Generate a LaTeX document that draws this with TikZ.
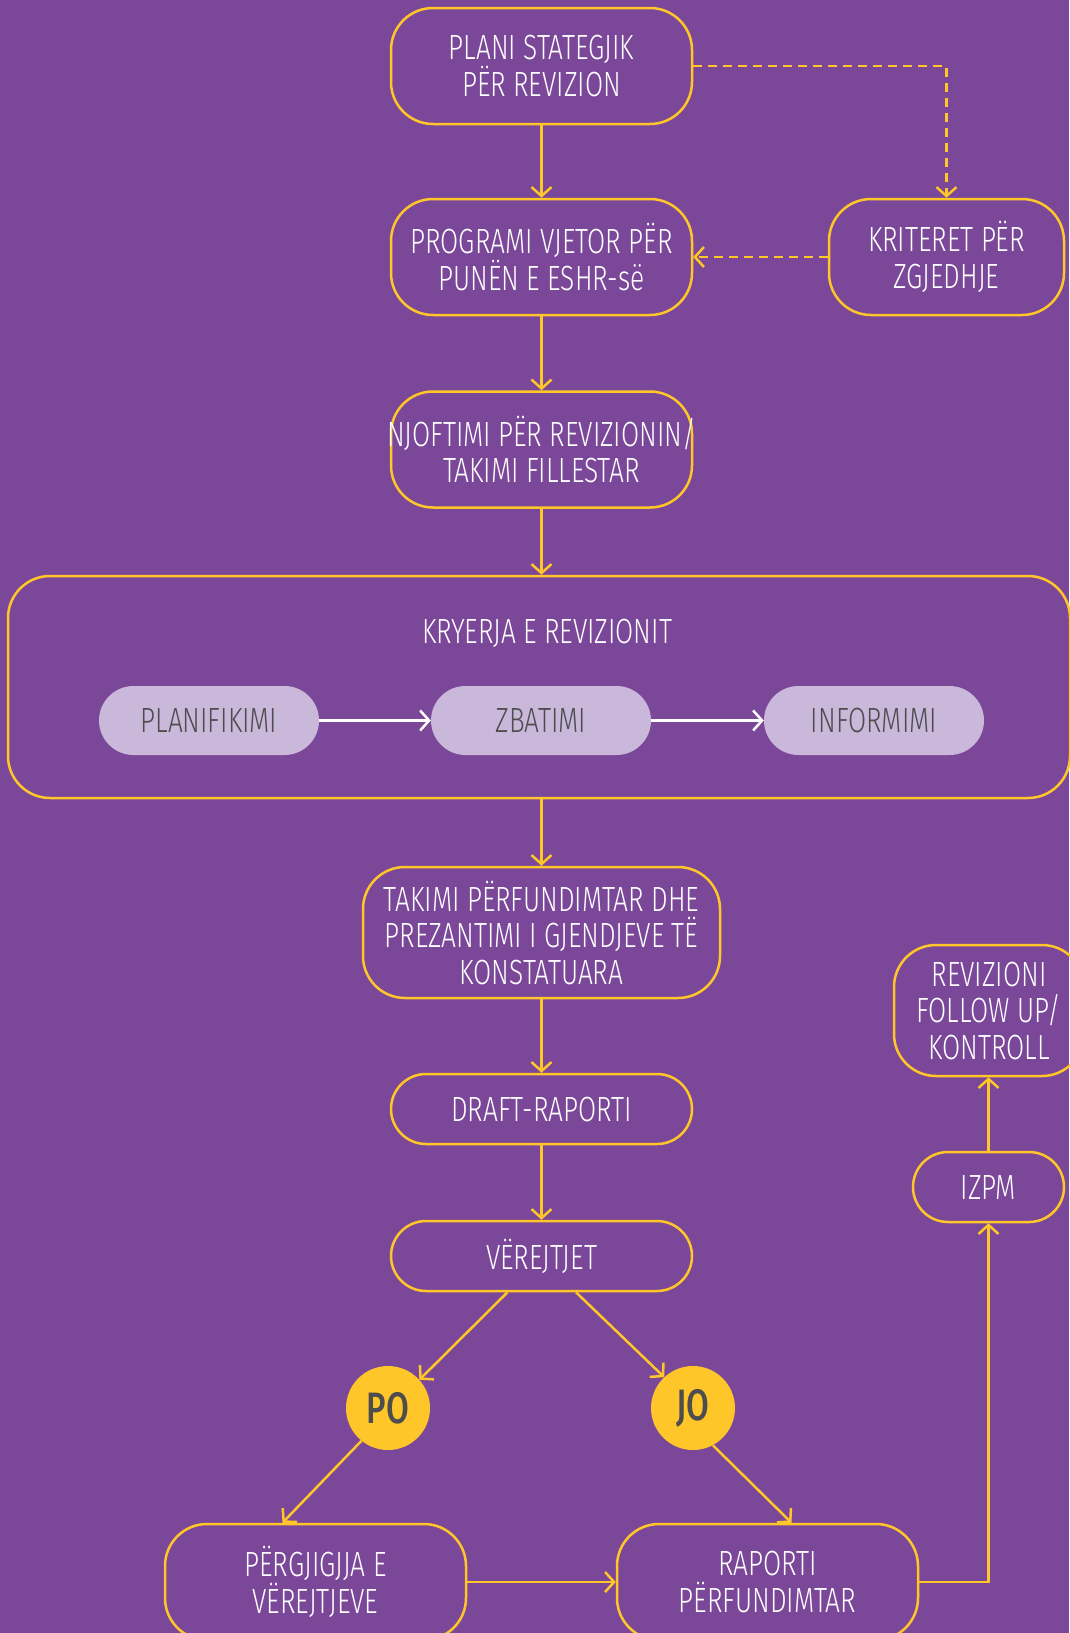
\documentclass[tikz,border=0pt]{standalone}
\usepackage{fontspec}
\setmainfont{Fira Sans}[FakeStretch=0.75, UprightFont=* Light, BoldFont=* Medium]
\usetikzlibrary{arrows.meta}
\definecolor{vjollce}{HTML}{7B4899}
\definecolor{verdhe}{HTML}{FFC629}
\definecolor{lejla}{HTML}{C9B8DA}
\definecolor{hiri}{HTML}{4D4D4D}
\begin{document}
\begin{tikzpicture}[x=1pt, y=-1pt, >={Straight Barb[length=9pt, width=20pt]}]
\tikzstyle{kuti}=[draw=verdhe, line width=2.5pt, rounded corners=42pt, text=white, align=center, font=\fontsize{35}{36.5}\selectfont, minimum width=301pt, minimum height=116pt, inner sep=0]
\tikzstyle{kapsule}=[fill=lejla, rounded corners=34.5pt, text=hiri, font=\fontsize{35}{36.5}\selectfont, minimum width=220pt, minimum height=69pt, inner sep=0]
\tikzstyle{rreth}=[circle, fill=verdhe, text=hiri, font=\fontsize{44}{44}\selectfont\bfseries, minimum size=84pt, inner sep=0]
\tikzstyle{shigjeta}=[->, draw=verdhe, line width=2.5pt]
\tikzstyle{vija}=[shigjeta, dash pattern=on 9pt off 6pt]
\useasboundingbox (0,0) rectangle (1069,1633);
\fill[vjollce] (0,0) rectangle (1069,1633);
\node[kuti] (plani) at (541.5,66) {PLANI STATEGJIK\\PËR REVIZION};
\node[kuti] (programi) at (541.5,257) {PROGRAMI VJETOR PËR\\PUNËN E ESHR-së};
\node[kuti, minimum width=235pt] (kriteret) at (946.5,257) {KRITERET PËR\\ZGJEDHJE};
\node[kuti] (njoftimi) at (541.5,449.5) {\makebox[280pt]{NJOFTIMI PËR REVIZIONIN/}\\TAKIMI FILLESTAR};
\node[kuti, minimum width=1062pt, minimum height=222pt] (kryerja) at (539,687) {};
\node[text=white, font=\fontsize{35}{36.5}\selectfont] (titulli) at (547,633) {KRYERJA E REVIZIONIT};
\node[kapsule] (planifikimi) at (209,720.5) {PLANIFIKIMI};
\node[kapsule] (zbatimi) at (541,720.5) {ZBATIMI};
\node[kapsule] (informimi) at (874,720.5) {INFORMIMI};
\node[kuti, minimum width=357pt, minimum height=131pt] (takimi) at (541.5,932.5) {TAKIMI PËRFUNDIMTAR DHE\\PREZANTIMI I GJENDJEVE TË\\KONSTATUARA};
\node[kuti, minimum height=70pt, rounded corners=35pt] (draft) at (541.5,1109) {DRAFT-RAPORTI};
\node[kuti, minimum height=70pt, rounded corners=35pt] (verejtjet) at (541.5,1256) {VËREJTJET};
\node[rreth] (po) at (388,1408) {PO};
\node[rreth] (jo) at (693,1408) {JO};
\node[kuti] (pergjigjja) at (315.5,1582) {PËRGJIGJJA E\\VËREJTJEVE};
\node[kuti] (raporti) at (767.5,1582) {RAPORTI\\PËRFUNDIMTAR};
\node[kuti, minimum width=151pt, minimum height=70pt, rounded corners=35pt] (izpm) at (988.5,1187) {IZPM};
\node[kuti, minimum width=190pt, minimum height=131pt] (followup) at (989,1010.5) {REVIZIONI\\FOLLOW UP/\\KONTROLL};
\draw[shigjeta] (plani) -- (programi);
\draw[vija] (plani.east) -| (kriteret.north);
\draw[vija] (kriteret.west) -- (programi.east);
\draw[shigjeta] (programi) -- (njoftimi);
\draw[shigjeta] (njoftimi.south) -- (njoftimi.south |- kryerja.north);
\draw[->, white, line width=2.5pt] (planifikimi) -- (zbatimi);
\draw[->, white, line width=2.5pt] (zbatimi) -- (informimi);
\draw[shigjeta] (kryerja.south -| takimi.north) -- (takimi.north);
\draw[shigjeta] (takimi) -- (draft);
\draw[shigjeta] (draft) -- (verejtjet);
\draw[shigjeta] ([xshift=-34pt]verejtjet.south) -- (po.42);
\draw[shigjeta] ([xshift=34.5pt]verejtjet.south) -- (jo.133);
\draw[shigjeta] (po.231) -- ([xshift=-33pt]pergjigjja.north);
\draw[shigjeta] (jo.298) -- ([xshift=24pt]raporti.north);
\draw[shigjeta] (pergjigjja) -- (raporti);
\draw[shigjeta] (raporti.east) -| (izpm.south);
\draw[shigjeta] (izpm) -- (izpm.north |- followup.south);
\end{tikzpicture}
\end{document}
